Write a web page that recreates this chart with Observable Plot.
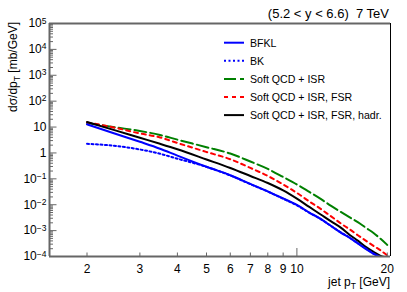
<!DOCTYPE html>
<html><head><meta charset="utf-8">
<script src="https://cdn.jsdelivr.net/npm/d3@7"></script>
<script src="https://cdn.jsdelivr.net/npm/@observablehq/plot@0.6"></script>
<style>
html,body{margin:0;padding:0;background:#fff;}
svg{display:block;}
</style></head><body><div id="chart"></div>
<script>
// ---- data ----
const pT    = [2, 2.5, 3, 3.5, 4, 5, 6, 7, 8, 9, 10, 11, 12, 13, 14, 15, 16, 17, 18, 19, 20];
const bfkl  = [12.8, 5.4, 2.7, 1.46, 0.79, 0.293, 0.138, 0.0636, 0.0327, 0.0175, 0.0098, 0.0050, 0.00283, 0.00151, 8.4e-4, 5.2e-4, 3.1e-4, 1.9e-4, 1.26e-4, 9.3e-5, 7.5e-5];
const bk    = [2.25, 1.86, 1.36, 0.93, 0.6, 0.29, 0.135, 0.062, 0.032, 0.017, 0.0095, 0.0049, 0.0028, 0.0015, 8.5e-4, 5.3e-4, 3.2e-4, 2.0e-4, 1.3e-4, 9.5e-5, 7.5e-5];
const isr   = [14.4, 9.7, 7.07, 4.95, 3.26, 1.67, 0.947, 0.466, 0.241, 0.118, 0.0608, 0.0312, 0.0168, 0.0090, 0.00527, 0.00323, 0.00207, 0.00127, 8.1e-4, 4.8e-4, 2.8e-4];
const isrFsr = [15.1, 9.2, 5.66, 3.97, 2.43, 1.09, 0.571, 0.264, 0.129, 0.0608, 0.0286, 0.0134, 0.0069, 0.00354, 0.0019, 0.00111, 6.5e-4, 4.0e-4, 2.57e-4, 1.73e-4, 1.1e-4];
const hadr  = [15.7, 7.3, 3.86, 2.26, 1.39, 0.56, 0.263, 0.129, 0.069, 0.0356, 0.0171, 0.0082, 0.0042, 0.00226, 0.0013, 6.8e-4, 4.0e-4, 2.3e-4, 1.5e-4, 1.05e-4, 9e-5];

const seriesNames  = ["BFKL", "BK", "Soft QCD + ISR", "Soft QCD + ISR, FSR", "Soft QCD + ISR, FSR, hadr."];
const seriesValues = [bfkl, bk, isr, isrFsr, hadr];
const seriesColors = ["#0000ff", "#0000ff", "#008000", "#ff0000", "#000000"];
const seriesDash   = [null, "2,2.5", "12,4", "4,4", null];

const xLabelTicks = [2, 3, 4, 5, 6, 7, 8, 9, 10, 20];
const xShortTicks = [2, 3, 4, 5, 6, 7, 8, 9, 20];
const xLongTicks  = [10];
const yMajorTicks = [1e-4, 1e-3, 1e-2, 1e-1, 1, 10, 1e2, 1e3, 1e4, 1e5];
const yMinorTicks = [];
for (let e = -4; e < 5; e++) for (let k = 2; k <= 9; k++) yMinorTicks.push(k * Math.pow(10, e));

const titleText = "(5.2 < y < 6.6)  7 TeV";

// ---- build ----
const drawOrder = [2, 3, 4, 1, 0];
const lineMarks = drawOrder.map(i => Plot.line(pT.map((x, j) => ({pT: x, v: seriesValues[i][j]})), {
  x: "pT", y: "v", stroke: seriesColors[i], strokeWidth: 2,
  strokeDasharray: seriesDash[i] || undefined, curve: "monotone-x", clip: true
}));

const axisGray = "#666";
const chart = Plot.plot({
  width: 407, height: 292,
  marginLeft: 49, marginRight: 17, marginTop: 23, marginBottom: 36,
  style: {fontFamily: "'Liberation Sans', Arial, Helvetica, sans-serif", fontSize: "12px", background: "#fff", color: "#000", overflow: "visible"},
  x: {type: "log", domain: [1.5, 20.5]},
  y: {type: "log", domain: [1e-4, 1e5]},
  marks: [
    ...lineMarks,
    Plot.axisX(xShortTicks, {tickSize: -3.5, fill: "none", stroke: axisGray, label: null}),
    Plot.axisX(xLongTicks, {tickSize: -8, fill: "none", stroke: axisGray, label: null}),
    Plot.text(xLabelTicks, {x: d => d, frameAnchor: "bottom", lineAnchor: "top", dy: 8, fontSize: 12, text: d => String(d)}),
    Plot.axisY(yMinorTicks, {tickSize: -4, fill: "none", stroke: axisGray, label: null}),
    Plot.axisY(yMajorTicks, {tickSize: -7.5, fill: "none", stroke: axisGray, label: null}),
    Plot.axisY(yMajorTicks, {tickSize: 0, tickPadding: 3, fontSize: 12, label: null,
      tickFormat: d => d === 1 ? "1" : d === 10 ? "10" : "10^" + Math.round(Math.log10(d))}),
    Plot.ruleX([20.5], {stroke: "#000", strokeWidth: 1}),
    Plot.ruleY([1e5], {stroke: axisGray, strokeWidth: 2}),
    Plot.ruleY([1e-4], {stroke: axisGray, strokeWidth: 2}),
    Plot.ruleX([1.5], {stroke: axisGray, strokeWidth: 2})
  ]
});
document.getElementById("chart").appendChild(chart);

const svg = d3.select(chart);
// superscripts on y tick labels
svg.selectAll('g[aria-label="y-axis tick label"] text').each(function() {
  const t = this.textContent;
  if (t.indexOf("^") < 0) return;
  const [base, ex] = t.split("^");
  const sel = d3.select(this);
  sel.text("");
  sel.append("tspan").text(base);
  sel.append("tspan").attr("dy", "-0.45em").attr("font-size", "8.5px").text(ex.replace("-", "\u2212"));
});

const ff = "'Liberation Sans', Arial, Helvetica, sans-serif";
// title
svg.append("text").attr("x", 389).attr("y", 18).attr("text-anchor", "end")
  .attr("font-family", ff).attr("font-size", 13).attr("fill", "#000").text(titleText);
// x title
const xt = svg.append("text").attr("x", 390).attr("y", 285.5).attr("text-anchor", "end")
  .attr("font-family", ff).attr("font-size", 12).attr("fill", "#000");
xt.append("tspan").text("jet p");
xt.append("tspan").attr("font-size", 8.5).attr("dy", 3).text("T");
xt.append("tspan").attr("dy", -3).text(" [GeV]");
// y title
const yt = svg.append("text").attr("transform", "translate(16.5,22) rotate(-90)").attr("text-anchor", "end")
  .attr("font-family", ff).attr("font-size", 12).attr("fill", "#000");
yt.append("tspan").text("d\u03c3/dp");
yt.append("tspan").attr("font-size", 8.5).attr("dy", 3).text("T");
yt.append("tspan").attr("dy", -3).text(" [mb/GeV]");
// legend
const lg = svg.append("g").attr("text-anchor", "start");
seriesNames.forEach((name, i) => {
  const cy = 42.7 + i * 18.1;
  lg.append("line").attr("x1", 224).attr("x2", 244).attr("y1", cy).attr("y2", cy)
    .attr("stroke", seriesColors[i]).attr("stroke-width", 2)
    .attr("stroke-dasharray", seriesDash[i] || null);
  lg.append("text").attr("x", 250).attr("y", cy + 3.8).attr("font-family", ff)
    .attr("font-size", 10.6).attr("fill", "#000").attr("text-anchor", "start").text(name);
});
</script></body></html>
